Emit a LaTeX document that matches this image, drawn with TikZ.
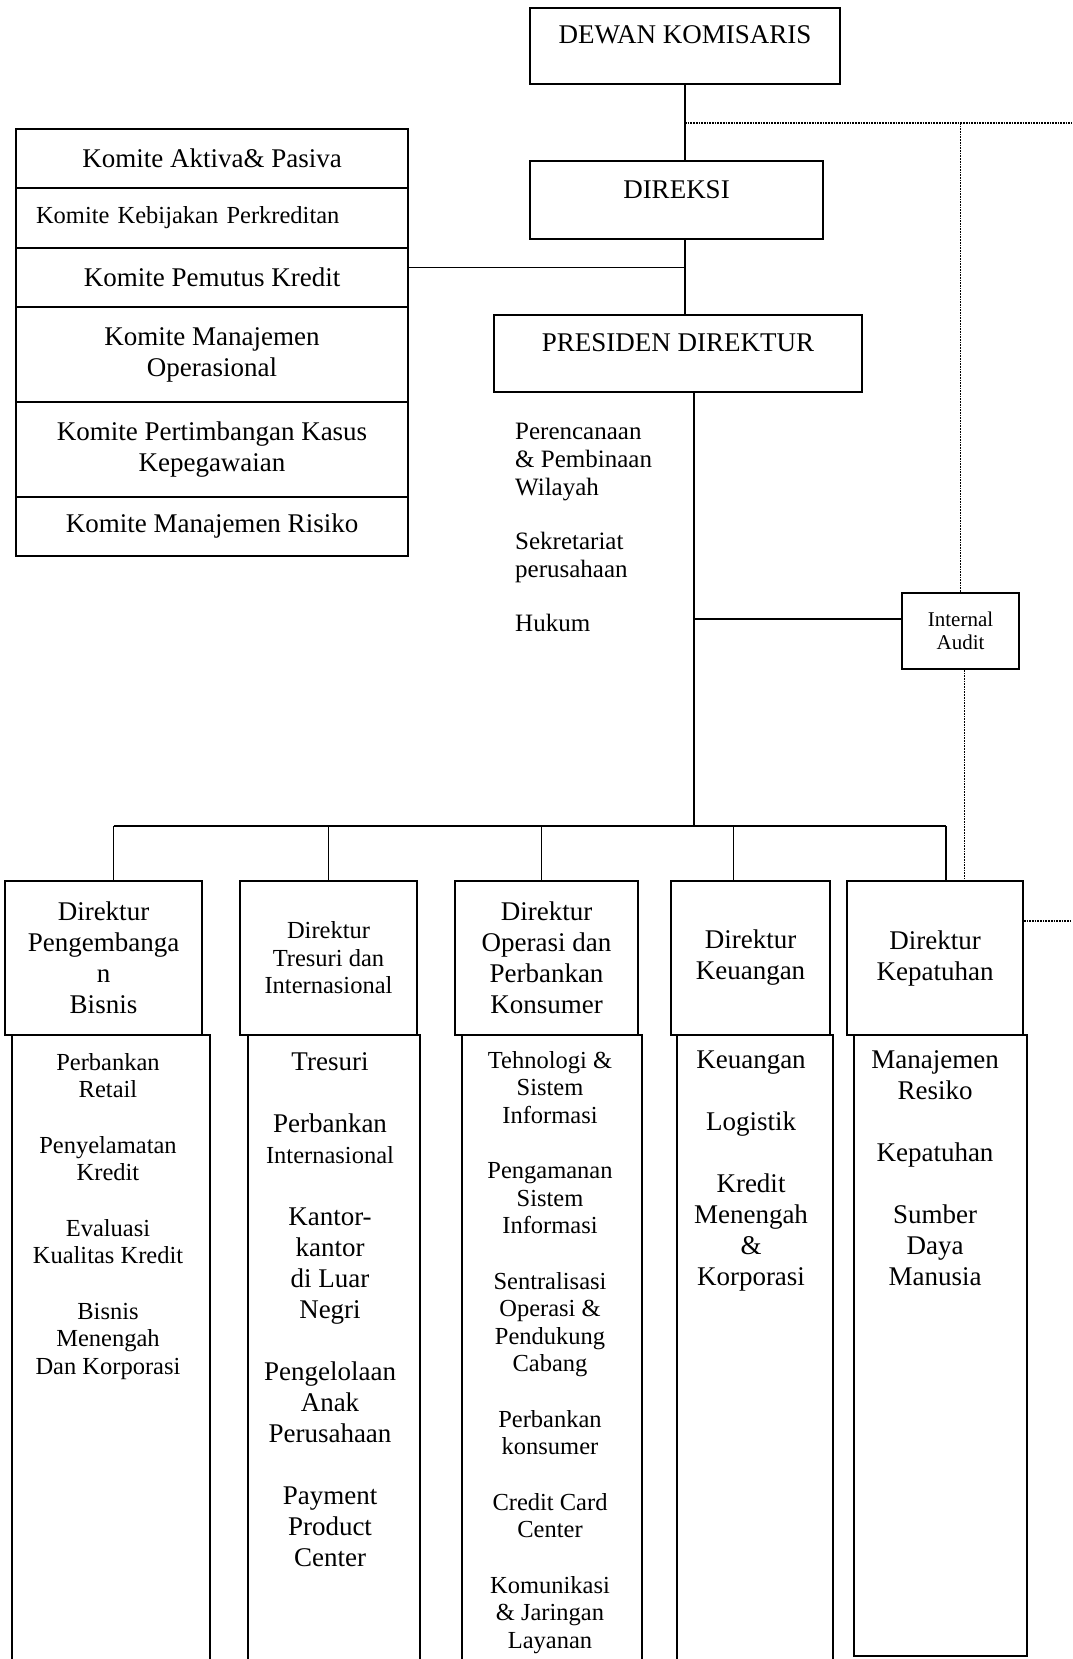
\documentclass[tikz,border=0pt]{standalone}
\usepackage{fontspec}
\setmainfont{Liberation Serif}

\newcommand{\txtbig}{\fontsize{27}{31}\selectfont}
\newcommand{\txtsmall}{\fontsize{24.5}{27.5}\selectfont}
\newcommand{\txtaudit}{\fontsize{21}{23}\selectfont}

\begin{document}
\begin{tikzpicture}[
    x=1pt, y=-1pt,
    orgbox/.style={rectangle, draw=black, line width=1.7pt, inner sep=0pt,
                   align=center, font=\txtbig},
    kombox/.style={orgbox, minimum width=392pt},
    headbox/.style={orgbox, minimum height=154pt},
    unitbox/.style={rectangle, draw=black, line width=1.7pt, inner sep=0pt},
    listtxt/.style={anchor=north, inner sep=0pt, align=center, font=\txtbig},
    conn/.style={line width=1.5pt},
    dotline/.style={densely dotted, line width=1.7pt}
]
\useasboundingbox (0,0) rectangle (1072,1659);
\clip (0,0) rectangle (1072,1659);

%% All nodes placed at explicit absolute coordinates %%

% Top of the chart
\node[orgbox, minimum width=310pt, minimum height=76pt, text depth=22pt] (dewan) at (685,46) {DEWAN KOMISARIS};
\node[orgbox, minimum width=293pt, minimum height=78pt, text depth=20pt] (direksi) at (676.5,200) {DIREKSI};
\node[orgbox, minimum width=368pt, minimum height=77pt, text depth=21pt] (presiden) at (678,353.5) {PRESIDEN DIREKTUR};

% Committee stack on the left
\node[kombox, minimum height=59pt] (kom1) at (212,158.5) {Komite Aktiva\& Pasiva};
\node[kombox, minimum height=60pt, font=\txtsmall, text width=352pt, align=left] (kom2) at (212,218) {Komite Kebijakan Perkreditan};
\node[kombox, minimum height=59pt] (kom3) at (212,277.5) {Komite Pemutus Kredit};
\node[kombox, minimum height=95pt] (kom4) at (212,354.5) {Komite Manajemen\\Operasional};
\node[kombox, minimum height=95pt] (kom5) at (212,449.5) {Komite Pertimbangan Kasus\\Kepegawaian};
\node[kombox, minimum height=59pt] (kom6) at (212,526.5) {Komite Manajemen Risiko};

% Staff units under the president
\node[anchor=north west, inner sep=0pt, align=left, font=\fontsize{25}{28}\selectfont] (staff) at (515,423)
    {Perencanaan\\\& Pembinaan\\Wilayah\\[26pt]Sekretariat\\perusahaan\\[26pt]Hukum};
\node[orgbox, minimum width=117pt, minimum height=76pt, font=\txtaudit] (audit) at (960.5,631) {Internal\\Audit};

% Directors
\node[headbox, minimum width=197pt] (dir1) at (103.5,958) {Direktur\\Pengembanga\\n\\Bisnis};
\node[headbox, minimum width=177pt, font=\txtsmall] (dir2) at (328.5,958) {Direktur\\Tresuri dan\\Internasional};
\node[headbox, minimum width=183pt] (dir3) at (546.5,958) {Direktur\\Operasi dan\\Perbankan\\Konsumer};
\node[headbox, minimum width=159pt] (dir4) at (750.5,958) {Direktur\\Keuangan};
\node[headbox, minimum width=176pt] (dir5) at (935,958) {Direktur\\Kepatuhan};

% Units below each director
\node[unitbox, minimum width=198pt, minimum height=645pt] (unit1) at (111,1357.5) {};
\node[unitbox, minimum width=172pt, minimum height=645pt] (unit2) at (334,1357.5) {};
\node[unitbox, minimum width=180pt, minimum height=645pt] (unit3) at (552,1357.5) {};
\node[unitbox, minimum width=156pt, minimum height=645pt] (unit4) at (755,1357.5) {};
\node[unitbox, minimum width=173pt, minimum height=621pt] (unit5) at (940.5,1345.5) {};

\node[listtxt, font=\txtsmall] (list1) at (108,1053)
    {Perbankan\\Retail\\[28pt]Penyelamatan\\Kredit\\[28pt]Evaluasi\\Kualitas Kredit\\[28pt]Bisnis\\Menengah\\Dan Korporasi};
\node[listtxt] (list2) at (330,1052)
    {Tresuri\\[31pt]Perbankan\\{\txtsmall Internasional}\\[31pt]Kantor-\\kantor\\di Luar\\Negri\\[31pt]Pengelolaan\\Anak\\Perusahaan\\[31pt]Payment\\Product\\Center};
\node[listtxt, font=\txtsmall] (list3) at (550,1051)
    {Tehnologi \&\\Sistem\\Informasi\\[28pt]Pengamanan\\Sistem\\Informasi\\[28pt]Sentralisasi\\Operasi \&\\Pendukung\\Cabang\\[28pt]Perbankan\\konsumer\\[28pt]Credit Card\\Center\\[28pt]Komunikasi\\\& Jaringan\\Layanan};
\node[listtxt] (list4) at (751,1051)
    {Keuangan\\[31pt]Logistik\\[31pt]Kredit\\Menengah\\\&\\Korporasi};
\node[listtxt] (list5) at (935,1050)
    {Manajemen\\Resiko\\[31pt]Kepatuhan\\[31pt]Sumber\\Daya\\Manusia};

%% Lines %%

% Vertical chain: komisaris -> direksi -> presiden
\draw[conn] (dewan.south) -- (dewan.south |- direksi.north);
\draw[conn] (dewan.south |- direksi.south) -- (dewan.south |- presiden.north);

% Committees -> direksi line
\draw[conn] ([yshift=10pt]kom3.east) -- ([yshift=10pt]kom3.east -| dewan.south);

% Presiden -> bus, audit
\coordinate (pd) at ([xshift=16pt]presiden.south);
\coordinate (bus) at (694,826);
\draw[conn] (pd) -- (bus);
\draw[conn] ([yshift=12pt]audit.west) -- ([yshift=12pt]audit.west -| pd);

% Bus -> directors
\draw[conn] ([xshift=10pt]dir1.north |- bus) -- ([xshift=11pt]dir5.north |- bus);
\foreach \dname/\dx in {dir1/10, dir2/0, dir3/-5, dir4/-17, dir5/11}
    \draw[conn] ([xshift=\dx pt]\dname.north) -- ([xshift=\dx pt]\dname.north |- bus);

% Dotted lines (supervision)
\coordinate (edgetop) at (1072,123);
\coordinate (edgeright) at (1072,921);
\draw[dotline] (dewan.south |- edgetop) -- (edgetop);
\draw[dotline] (audit.north |- edgetop) -- (audit.north);
\draw[dotline] ([xshift=4pt]audit.south) -- ([xshift=4pt]audit.south |- dir5.north);
\draw[dotline] (dir5.east |- edgeright) -- (edgeright);

\end{tikzpicture}
\end{document}
